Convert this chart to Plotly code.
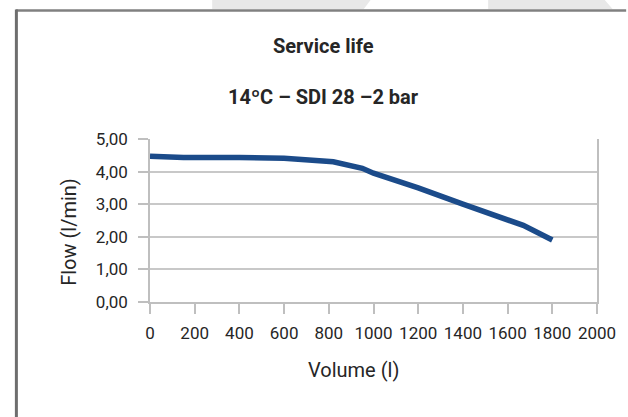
import plotly.graph_objects as go

volume = [0, 150, 400, 600, 820, 950, 1000, 1200, 1400, 1670, 1800]
flow = [4.47, 4.43, 4.43, 4.41, 4.30, 4.10, 3.95, 3.50, 3.00, 2.35, 1.90]
x_ticks = [0, 200, 400, 600, 800, 1000, 1200, 1400, 1600, 1800, 2000]
y_ticks = [0, 1, 2, 3, 4, 5]

W, H = 628, 417
L, R, T, B = 150, 18, 139, 115
PW, PH = W - L - R, H - T - B

def px(x):
    return (x - L) / PW

def py(y):
    return (H - B - y) / PH

FONT = "Roboto"
TXT = "#262626"

fig = go.Figure()
fig.add_trace(go.Scatter(x=volume, y=flow, mode="lines",
                         line=dict(color="#1b4b8a", width=5.5),
                         showlegend=False, hoverinfo="skip"))

shapes = [
    dict(type="path", xref="paper", yref="paper", layer="below",
         path=f"M {px(214)} {py(0)} L {px(377)} {py(0)} L {px(370)} {py(9)} L {px(214)} {py(9)} Z",
         fillcolor="#e8e8e8", line=dict(width=0)),
    dict(type="path", xref="paper", yref="paper", layer="below",
         path=f"M {px(498)} {py(0)} L {px(618)} {py(0)} L {px(626)} {py(9)} L {px(498)} {py(9)} Z",
         fillcolor="#e8e8e8", line=dict(width=0)),
    dict(type="line", xref="paper", yref="paper", x0=px(12), x1=px(640), y0=py(10.5), y1=py(10.5),
         line=dict(color="#808080", width=2.5)),
    dict(type="line", xref="paper", yref="paper", x0=px(12.5), x1=px(12.5), y0=py(9.5), y1=py(430),
         line=dict(color="#6e6e6e", width=3)),
]

def ann(text, x, y, angle=0):
    return dict(text=text, xref="paper", yref="paper", x=px(x), y=py(y),
                xanchor="center", yanchor="middle", textangle=angle,
                showarrow=False, font=dict(family=FONT, size=20, color=TXT))

annotations = [
    ann("<b>Service life</b>", 329, 46),
    ann("<b>14ºC – SDI 28 –2 bar</b>", 329, 97),
    ann("Volume (l)", 359.5, 370),
    ann("Flow (l/min)", 66.5, 232, -90),
]

fig.update_layout(
    width=W, height=H,
    margin=dict(l=L, r=R, t=T, b=B),
    paper_bgcolor="white", plot_bgcolor="white",
    separators=",.",
    font=dict(family=FONT, size=17, color=TXT),
    shapes=shapes, annotations=annotations,
    xaxis=dict(range=[0, 2000], tickvals=x_ticks, ticktext=[str(v) for v in x_ticks],
               showgrid=False, zeroline=False, showline=True, linecolor="#bfbfbf", linewidth=1.5,
               ticks="outside", ticklen=10, tickcolor="#bfbfbf", tickwidth=1.5,
               ticklabelstandoff=5, ticklabeloverflow="allow",
               tickfont=dict(family=FONT, size=17, color=TXT)),
    yaxis=dict(range=[0, 5], tickvals=y_ticks, tickformat=".2f",
               showgrid=True, gridcolor="#c8c8c8", gridwidth=1.5, zeroline=False,
               showline=True, linecolor="#bfbfbf", linewidth=1.5, mirror=True,
               ticks="outside", ticklen=10, tickcolor="#bfbfbf", tickwidth=1.5,
               ticklabelstandoff=7,
               tickfont=dict(family=FONT, size=17, color=TXT)),
)

fig.write_html("out.html", config={"displayModeBar": False},
               post_script="document.body.style.margin='0';")
